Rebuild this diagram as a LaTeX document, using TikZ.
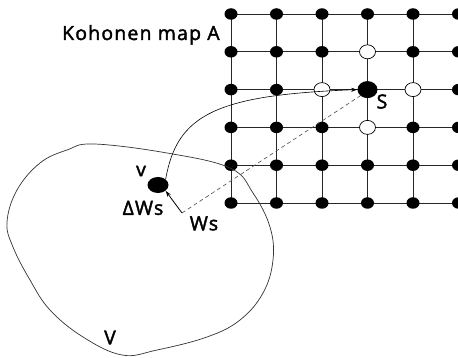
\documentclass[tikz,border=0pt]{standalone}
\usepackage{fontspec}
\setmainfont[FakeBold=2,LetterSpace=6]{Open Sans}
\usetikzlibrary{shapes.geometric,arrows.meta}
\tikzset{every picture/.style={line width=0.75pt}}

\begin{document}
\begin{tikzpicture}[x=1pt,y=1pt,yscale=-1,xscale=1,
  font=\fontsize{19.5}{22}\selectfont,
  unit/.style={ellipse,fill=black,inner sep=0pt,minimum width=13pt,minimum height=11.5pt},
  winner/.style={ellipse,fill=black,inner sep=0pt,minimum width=20pt,minimum height=17pt},
  neighbour/.style={ellipse,draw=black,line width=0.7pt,fill=white,inner sep=0pt,minimum width=16pt,minimum height=14pt},
  gridline/.style={black!85,line width=0.7pt},
  label/.style={inner sep=0pt}]
\useasboundingbox (0,0) rectangle (458,358);
\clip (0,0) rectangle (458,358);

% lattice points of the map
\foreach \i in {0,...,5} {
  \foreach \j in {0,...,5} {
    \coordinate (p\i\j) at (231+45.5*\i,14+37.8*\j);
  }
}
% lattice lines
\foreach \k in {0,...,5} {
  \draw [gridline] (p0\k) -- (p5\k);
  \draw [gridline] (p\k0) -- (p\k5);
}
% units
\foreach \i in {0,...,5} {
  \foreach \j in {0,...,5} {
    \node [unit] (n\i\j) at (p\i\j) {};
  }
}
% winner and neighbours
\node [neighbour] (n31) at (p31) {};
\node [neighbour] (n22) at (p22) {};
\node [neighbour] (n42) at (p42) {};
\node [neighbour] (n33) at (p33) {};
\node [winner] (s) at (p32) {};

% input space V
\draw [line width=0.7pt,black!80] plot [smooth cycle,tension=0.65] coordinates {
  (94,144) (167,153) (230,168) (253,193) (270,227) (273,260) (263,293)
  (240,320) (207,337) (157,350) (122,355) (83,337) (50,310) (30,280)
  (13,247) (7,222) (17,190) (40,163) (67,150)};

% input vector v and weight vector
\node [winner,minimum width=21pt,minimum height=16pt] (v) at (158,185) {};
\coordinate (ws) at (182,213);

% mapping of v onto the map
\draw [line width=0.6pt,-{Stealth[length=6pt,width=4pt]}] (v.north east) .. controls (177,115) and (215,95) .. (s.west);
\draw [line width=0.6pt,black!70,dash pattern={on 4pt off 3pt}] (ws) -- (s.south west);
\draw [line width=0.8pt,-{Stealth[length=6pt,width=4pt]}] (ws) -- (v.south east);

% Text Node
\node [label,anchor=base east] (title) at (220,40) {Kohonen map A};
% Text Node
\node [label] (slab) at (382,101.5) {S};
% Text Node
\node [label] (vlab) at (141,171) {v};
% Text Node
\node [label] (dwlab) at (143,208) {ΔWs};
% Text Node
\node [label] (wslab) at (204,223.5) {Ws};
% Text Node
\node [label] (bigv) at (110,337.5) {V};

\end{tikzpicture}
\end{document}
